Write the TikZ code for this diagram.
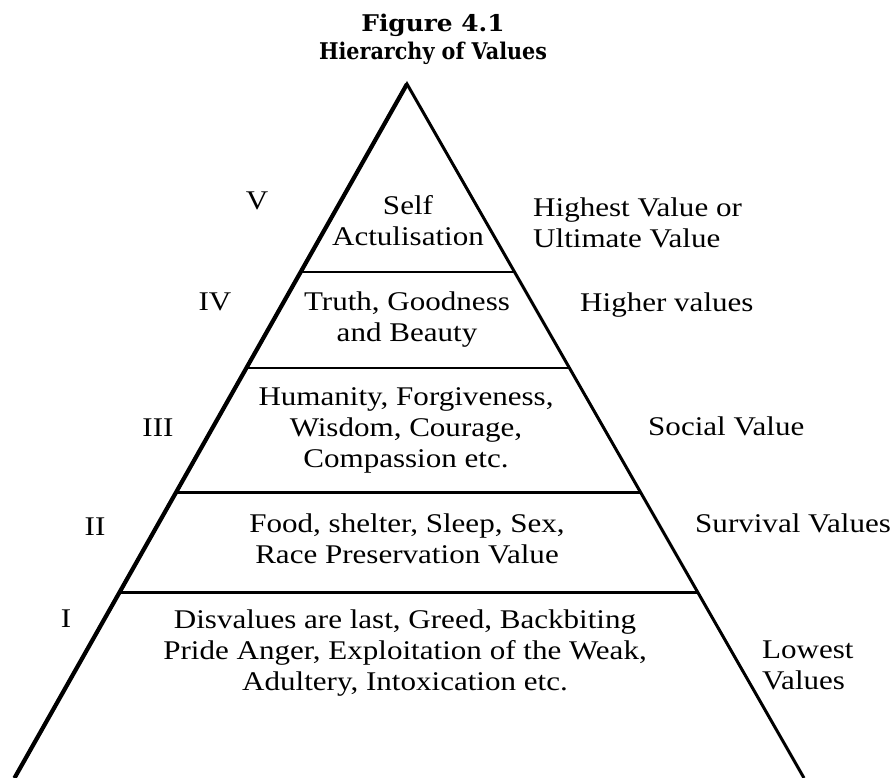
\documentclass[tikz,border=0pt]{standalone}
\usepackage{fontspec}
\usetikzlibrary{calc}
\setmainfont{Liberation Serif}[FakeStretch=1.15]
\newfontfamily\titlefont{DejaVu Serif}[FakeStretch=0.9]
\begin{document}
\begin{tikzpicture}[x=1pt,y=-1pt,
  lvl/.style={anchor=base,align=center,font=\fontsize{27}{31}\selectfont,inner sep=0pt},
  roman/.style={anchor=base,font=\fontsize{27}{31}\selectfont,inner sep=0pt},
  side/.style={anchor=base west,align=left,font=\fontsize{27}{31}\selectfont,inner sep=0pt},
  ttl/.style={anchor=base,align=center,font=\titlefont\bfseries\fontsize{23}{28.5}\selectfont,inner sep=0pt},
  divider/.style={draw=black,line width=#1},
]
\useasboundingbox (0,0) rectangle (893,778);
% outline
\coordinate (apex) at (407,84);
\coordinate (bl) at (14.5,778);
\coordinate (br) at (804,778);
\draw[line width=3pt,line join=miter] (bl) -- (apex) -- (br);
\draw[line width=4.2pt] (bl) -- (apex);
% dividers
\coordinate (l1) at ($(apex)!0.2709!(bl)$);
\coordinate (r1) at ($(apex)!0.2709!(br)$);
\coordinate (l2) at ($(apex)!0.4092!(bl)$);
\coordinate (r2) at ($(apex)!0.4092!(br)$);
\coordinate (l3) at ($(apex)!0.5893!(bl)$);
\coordinate (r3) at ($(apex)!0.5893!(br)$);
\coordinate (l4) at ($(apex)!0.7320!(bl)$);
\coordinate (r4) at ($(apex)!0.7320!(br)$);
\draw[divider=2.2pt] (l1) -- (r1);
\draw[divider=2.7pt] (l2) -- (r2);
\draw[divider=3pt] (l3) -- (r3);
\draw[divider=3pt] (l4) -- (r4);
% title (anchor base = baseline of last line)
\node[ttl] (title) at (433,60) {\scalebox{1.2}[1]{Figure 4.1}\\Hierarchy of Values};
% level numbers
\node[roman] (n5) at (257,209) {V};
\node[roman] (n4) at (215,310) {IV};
\node[roman] (n3) at (158,436) {III};
\node[roman] (n2) at (95,535) {II};
\node[roman] (n1) at (66,627) {I};
% level contents
\node[lvl] (t5) at (408,245) {Self\\Actulisation};
\node[lvl] (t4) at (407,341) {Truth, Goodness\\and Beauty};
\node[lvl] (t3) at (406,467) {Humanity, Forgiveness,\\Wisdom, Courage,\\Compassion etc.};
\node[lvl] (t2) at (407,563) {Food, shelter, Sleep, Sex,\\Race Preservation Value};
\node[lvl] (t1) at (405,690) {Disvalues are last, Greed, Backbiting\\Pride Anger, Exploitation of the Weak,\\Adultery, Intoxication etc.};
% side labels
\node[side] (s5) at (533,247) {Highest Value or\\Ultimate Value};
\node[side] (s4) at (580,311) {Higher values};
\node[side] (s3) at (648,435) {Social Value};
\node[side] (s2) at (695,532) {Survival Values};
\node[side] (s1) at (762,689) {Lowest\\Values};
\end{tikzpicture}
\end{document}
